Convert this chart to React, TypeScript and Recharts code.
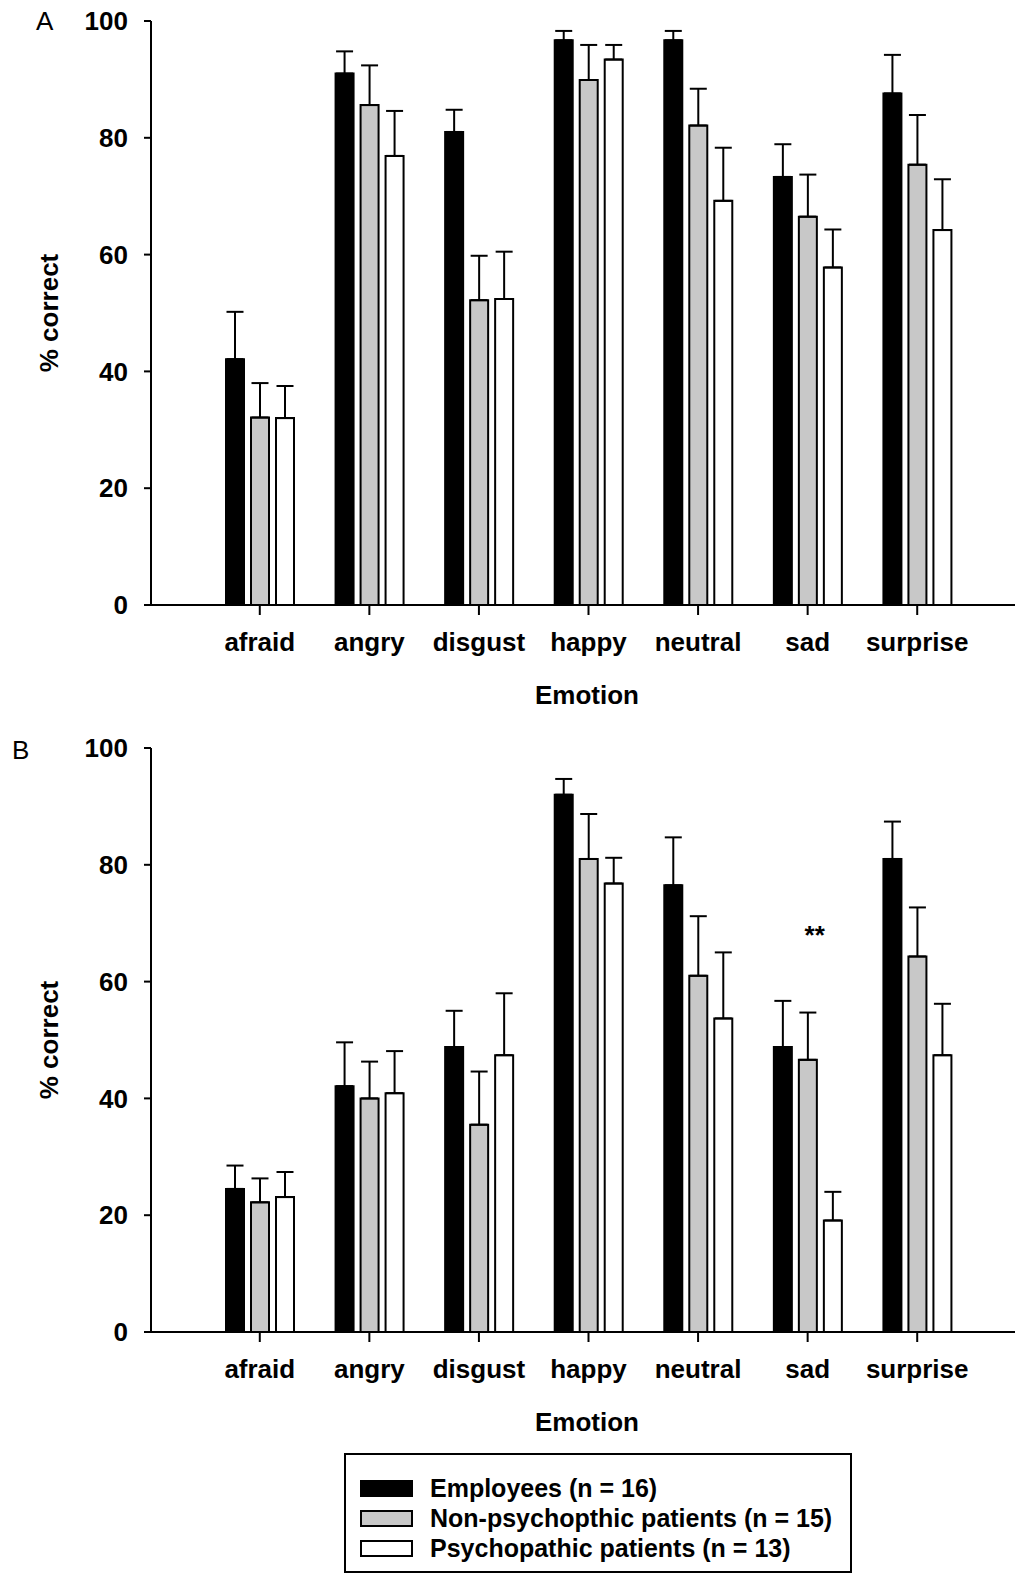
import { BarChart, Bar, XAxis, YAxis, ErrorBar, Label, ReferenceDot } from 'recharts';

const FONT = '"Liberation Sans", Arial, sans-serif';

const emotions = ['afraid', 'angry', 'disgust', 'happy', 'neutral', 'sad', 'surprise'];
const yTicks = [0, 20, 40, 60, 80, 100];

// Panel A: % correct, upper SEM
const employeesA = [42.1, 91.0, 81.0, 96.7, 96.7, 73.3, 87.6];
const employeesAErr = [8.1, 3.8, 3.8, 1.6, 1.6, 5.6, 6.6];
const nonPsychA = [32.1, 85.6, 52.2, 89.9, 82.1, 66.5, 75.4];
const nonPsychAErr = [5.9, 6.8, 7.6, 6.0, 6.3, 7.2, 8.5];
const psychA = [32.0, 76.9, 52.4, 93.4, 69.2, 57.8, 64.2];
const psychAErr = [5.5, 7.7, 8.1, 2.5, 9.1, 6.5, 8.7];

// Panel B
const employeesB = [24.5, 42.1, 48.8, 92.0, 76.5, 48.8, 81.0];
const employeesBErr = [4.0, 7.5, 6.2, 2.7, 8.2, 7.9, 6.4];
const nonPsychB = [22.2, 40.0, 35.5, 81.0, 61.0, 46.6, 64.3];
const nonPsychBErr = [4.1, 6.3, 9.1, 7.7, 10.2, 8.1, 8.4];
const psychB = [23.1, 40.9, 47.4, 76.8, 53.7, 19.1, 47.4];
const psychBErr = [4.3, 7.2, 10.6, 4.4, 11.3, 4.9, 8.8];

const series = [
  { key: 'emp', name: 'Employees (n = 16)', fill: '#000000' },
  { key: 'non', name: 'Non-psychopthic patients (n = 15)', fill: '#c8c8c8' },
  { key: 'psy', name: 'Psychopathic patients (n = 13)', fill: '#ffffff' },
];

function buildRows(emp: number[], empErr: number[], non: number[], nonErr: number[], psy: number[], psyErr: number[]) {
  // error bars only go up, so the low side is 0
  return emotions.map((emotion, i) => ({
    emotion,
    emp: emp[i], empErr: [0, empErr[i]],
    non: non[i], nonErr: [0, nonErr[i]],
    psy: psy[i], psyErr: [0, psyErr[i]],
  }));
}

const dataA = buildRows(employeesA, employeesAErr, nonPsychA, nonPsychAErr, psychA, psychAErr);
const dataB = buildRows(employeesB, employeesBErr, nonPsychB, nonPsychBErr, psychB, psychBErr);

const textStyle = { fill: '#000', fontSize: 26, fontWeight: 'bold', fontFamily: FONT };
const line = { stroke: '#000', strokeWidth: 2 };

function Panel({ data, top, stars }: { data: any[]; top: number; stars?: boolean }) {
  return (
    <div style={{ position: 'absolute', left: 0, top }}>
      <BarChart width={1015} height={720} data={data} margin={{ top: 21, right: 0, bottom: 0, left: 0 }} barSize={18} barGap={7}>
        <XAxis
          dataKey="emotion"
          interval={0}
          padding={{ left: 54, right: 43 }}
          height={115}
          tickSize={10}
          tickMargin={18}
          axisLine={line}
          tickLine={line}
          tick={textStyle}
        >
          <Label value="Emotion" position="insideTop" offset={81} dx={4} style={textStyle} />
        </XAxis>
        <YAxis
          type="number"
          domain={[0, 100]}
          ticks={yTicks}
          width={151}
          tickSize={7}
          tickMargin={16}
          axisLine={line}
          tickLine={line}
          tick={textStyle}
        >
          <Label value="% correct" angle={-90} position="center" dx={-27} style={textStyle} />
        </YAxis>
        {series.map((s) => (
          <Bar key={s.key} dataKey={s.key} fill={s.fill} stroke="#000" strokeWidth={2} isAnimationActive={false}>
            <ErrorBar dataKey={s.key + 'Err'} direction="y" width={8.5} stroke="#000" strokeWidth={2} isAnimationActive={false} />
          </Bar>
        ))}
        {stars && (
          <ReferenceDot x="sad" y={68.1} r={1} fill="none" stroke="none">
            <Label value="**" position="center" dx={7} style={textStyle} />
          </ReferenceDot>
        )}
      </BarChart>
    </div>
  );
}

export default function App() {
  const letter = { position: 'absolute' as const, fontFamily: FONT, fontSize: 26, lineHeight: '26px' };
  return (
    <div style={{ position: 'absolute', left: 0, top: 0, width: 1015, height: 1575, background: '#fff', fontFamily: FONT }}>
      <Panel data={dataA} top={0} />
      <Panel data={dataB} top={727} stars />
      <div style={{ ...letter, left: 36, top: 8 }}>A</div>
      <div style={{ ...letter, left: 12, top: 737 }}>B</div>
      <div
        style={{
          position: 'absolute', left: 344, top: 1453, width: 508, height: 120,
          border: '2px solid #000', boxSizing: 'border-box',
        }}
      >
        {series.map((s, i) => (
          <div key={s.key} style={{ position: 'absolute', left: 14, top: 22 + i * 30, height: 22, display: 'flex', alignItems: 'center' }}>
            <span style={{ width: 53, height: 17, background: s.fill, border: '2px solid #000', boxSizing: 'border-box', display: 'inline-block' }} />
            <span style={{ marginLeft: 17, fontSize: 25, fontWeight: 'bold', color: '#000', whiteSpace: 'nowrap' }}>{s.name}</span>
          </div>
        ))}
      </div>
    </div>
  );
}
